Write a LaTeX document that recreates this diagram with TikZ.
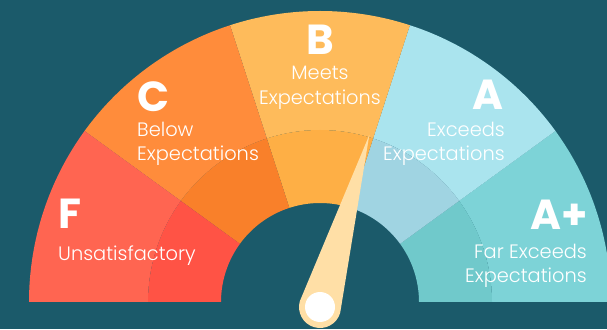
\documentclass[tikz,border=0pt]{standalone}
\usepackage{fontspec}
\usepackage{xcolor}
\newfontfamily\gradefont{Poppins}
\newfontfamily\notefont{Poppins Light}
\definecolor{bgteal}{HTML}{1B5A6A}
\definecolor{fout}{HTML}{FF6551}
\definecolor{fin}{HTML}{FF5345}
\definecolor{cout}{HTML}{FF8C3B}
\definecolor{cin}{HTML}{F9802A}
\definecolor{bout}{HTML}{FEBB5B}
\definecolor{bin}{HTML}{FEAF45}
\definecolor{aout}{HTML}{AAE4EE}
\definecolor{ain}{HTML}{A0D4E2}
\definecolor{apout}{HTML}{7DD3D7}
\definecolor{apin}{HTML}{70C9CB}
\definecolor{needle}{HTML}{FFDFA6}
\begin{document}
\begin{tikzpicture}[x=1pt,y=1pt,
	grade/.style={text=white,inner sep=0pt,font=\gradefont\bfseries\fontsize{42}{42}\selectfont},
	note/.style={text=white,inner sep=0pt,font=\notefont\fontsize{19.4}{24}\selectfont}]
	\fill[bgteal] (0,0) rectangle (607,329);
	\useasboundingbox (0,0) rectangle (607,329);
	% bands of the gauge, outer and inner
	\foreach \a/\b/\co/\ci in {0/36/apout/apin,36/72/aout/ain,72/108/bout/bin,108/144/cout/cin,144/180/fout/fin}{
		\fill[\co,shift={(320,27)}] (\a:172) arc (\a:\b:172) -- (\b:291) arc (\b:\a:291) -- cycle;
		\fill[\ci,shift={(320,27)}] (\a:99) arc (\a:\b:99) -- (\b:172) arc (\b:\a:172) -- cycle;
	}
	% needle
	\coordinate (hub) at (320,22);
	\fill[needle,shift={(320,22)}] (164:21) -- (49.3,172) -- (-16:21) arc (-16:-196:21) -- cycle;
	\fill[white] (hub) circle (15);
	% grades
	\node[grade,anchor=base west] (gF) at (58,100) {F};
	\node[note,anchor=base west] (nF) at (58,68) {Unsatisfactory};
	\node[grade,anchor=base west] (gC) at (137,217) {C};
	\node[note,anchor=base west] (nC1) at (137,192) {Below};
	\node[note,anchor=base west] (nC2) at (137,168) {Expectations};
	\node[grade,anchor=base] (gB) at (320,274) {B};
	\node[note,anchor=base] (nB1) at (320,249) {Meets};
	\node[note,anchor=base] (nB2) at (320,224) {Expectations};
	\node[grade,anchor=base east] (gA) at (504,219) {A};
	\node[note,anchor=base east] (nA1) at (505,192) {Exceeds};
	\node[note,anchor=base east] (nA2) at (505,168) {Expectations};
	\node[grade,anchor=base east] (gAp) at (588,99) {A+};
	\node[note,anchor=base east] (nAp1) at (587,70) {Far Exceeds};
	\node[note,anchor=base east] (nAp2) at (587,46) {Expectations};
\end{tikzpicture}
\end{document}
